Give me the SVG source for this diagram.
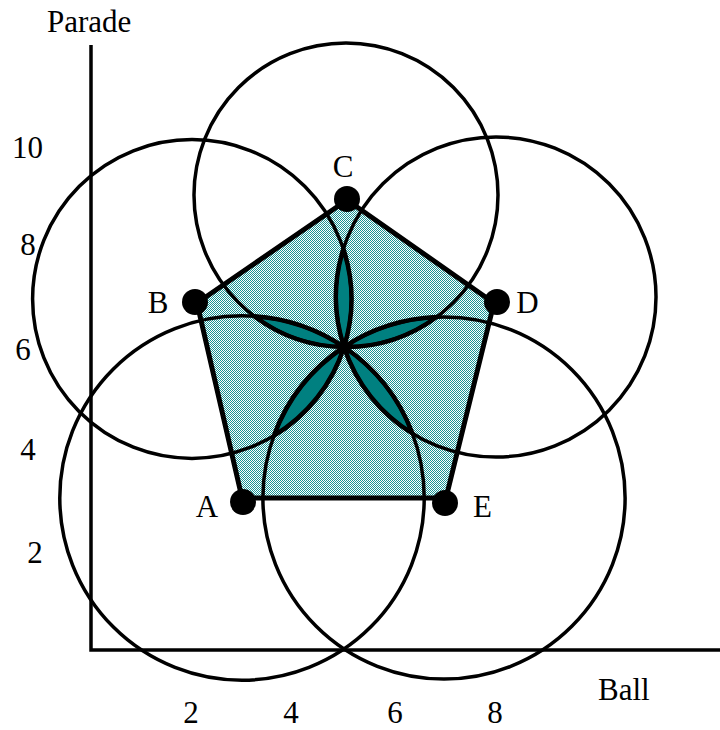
<svg xmlns="http://www.w3.org/2000/svg" width="720" height="730" viewBox="0 0 720 730">
<defs>
<pattern id="dither" x="0" y="0" width="2" height="2" patternUnits="userSpaceOnUse">
<rect x="0" y="0" width="2" height="2" fill="#ffffff"/>
<rect x="0" y="0" width="1" height="1" fill="#1a9494"/>
<rect x="1" y="1" width="1" height="1" fill="#1a9494"/>
</pattern>
</defs>
<style>
.lbl{font-family:"Liberation Serif","Times New Roman",serif;font-size:31px;fill:#000}
.mid{text-anchor:middle}
.circ{fill:none;stroke:#000;stroke-width:3.5}
.petal{fill:#008080;stroke:#000;stroke-width:4.5;stroke-linejoin:round}
.axis{fill:none;stroke:#000;stroke-width:3.5}
.dot{fill:#000}
</style>
<rect width="720" height="730" fill="#ffffff"/>
<g id="axes">
<path class="axis" d="M91 45 V650 H720"/>
<text class="lbl" x="47" y="32">Parade</text>
<text class="lbl" x="598" y="700">Ball</text>
<text class="lbl mid" x="27.5" y="158">10</text>
<text class="lbl mid" x="28" y="255">8</text>
<text class="lbl mid" x="23" y="360">6</text>
<text class="lbl mid" x="28" y="460">4</text>
<text class="lbl mid" x="35" y="563">2</text>
<text class="lbl mid" x="191" y="723">2</text>
<text class="lbl mid" x="291" y="723">4</text>
<text class="lbl mid" x="395" y="723">6</text>
<text class="lbl mid" x="495" y="723">8</text>
</g>
<g id="pentagon">
<polygon points="242,498 197,303 347,200 494,303 446,498" fill="url(#dither)" stroke="#000" stroke-width="5" stroke-linejoin="round"/>
</g>
<g id="petals">
<path class="petal" d="M344 347 A159.4 159.4 0 0 0 343.36 249 A160.01 160.01 0 0 0 344 347 Z"/>
<path class="petal" d="M344 347 A182.22 182.22 0 0 0 254.24 316.2 A152.01 152.01 0 0 0 344 347 Z"/>
<path class="petal" d="M344 347 A152.01 152.01 0 0 0 436.64 317.05 A181.11 181.11 0 0 0 344 347 Z"/>
<path class="petal" d="M344 347 A181.11 181.11 0 0 0 273.88 435.68 A159.4 159.4 0 0 0 344 347 Z"/>
<path class="petal" d="M344 347 A160.01 160.01 0 0 0 412.4 433.4 A182.22 182.22 0 0 0 344 347 Z"/>
</g>
<g id="circles">
<circle id="circle-A" class="circ" cx="242" cy="498" r="182.22"/>
<circle id="circle-B" class="circ" cx="192" cy="299" r="159.4"/>
<circle id="circle-C" class="circ" cx="346" cy="195" r="152.01"/>
<circle id="circle-D" class="circ" cx="496" cy="297" r="160.01"/>
<circle id="circle-E" class="circ" cx="444" cy="498" r="181.11"/>
</g>
<g id="node-A"><circle class="dot" cx="243" cy="502" r="13"/><text class="lbl mid" x="207" y="517">A</text></g>
<g id="node-B"><circle class="dot" cx="195" cy="302" r="13"/><text class="lbl mid" x="158" y="313">B</text></g>
<g id="node-C"><circle class="dot" cx="347" cy="199" r="13"/><text class="lbl mid" x="343" y="177">C</text></g>
<g id="node-D"><circle class="dot" cx="497" cy="302" r="13"/><text class="lbl mid" x="527.5" y="313">D</text></g>
<g id="node-E"><circle class="dot" cx="445" cy="503" r="13"/><text class="lbl mid" x="482.5" y="517">E</text></g>
</svg>
